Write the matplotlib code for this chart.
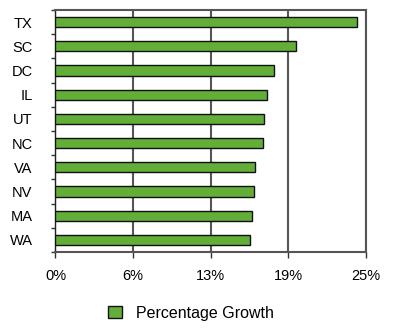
import numpy as np
import matplotlib.pyplot as plt

plt.rcParams['font.family'] = ['Liberation Sans', 'DejaVu Sans']

states = ['TX', 'SC', 'DC', 'IL', 'UT', 'NC', 'VA', 'NV', 'MA', 'WA']
growth = [24.3, 19.4, 17.6, 17.05, 16.8, 16.7, 16.1, 16.0, 15.85, 15.65]
x_ticks = [0, 6.25, 12.5, 18.75, 25]
x_labels = ['0%', '6%', '13%', '19%', '25%']

fig = plt.figure(figsize=(3.93, 3.31), dpi=100)
ax = fig.add_axes([0.1412, 0.2387, 0.79, 0.731])

y = np.arange(len(states))
bars = ax.barh(y, growth, height=0.42, color='#63ae38', edgecolor='#111111',
               linewidth=1.0, label='Percentage Growth', zorder=3)

ax.set_xlim(0, 25)
ax.set_ylim(len(states) - 0.5, -0.5)
ax.set_xticks(x_ticks)
ax.set_xticklabels(x_labels, fontsize=10.5)
ax.set_yticks(y)
ax.set_yticklabels(states, fontsize=10.5)
ax.set_yticks(np.arange(len(states) + 1) - 0.5, minor=True)

ax.xaxis.grid(True, color='#555555', linewidth=1.5, zorder=0)
ax.tick_params(axis='y', which='major', length=0, pad=16.5)
ax.tick_params(axis='y', which='minor', length=3, width=1, color='#333333')
ax.tick_params(axis='x', length=4, width=1, color='#333333', pad=8)

for side in ['top', 'right', 'bottom']:
    ax.spines[side].set_color('#555555')
    ax.spines[side].set_linewidth(1.5)
ax.spines['left'].set_color('#222222')
ax.spines['left'].set_linewidth(1.0)

fig.legend(handles=[bars], loc='center', bbox_to_anchor=(0.486, 0.054),
           frameon=False, fontsize=11.5, handlelength=0.85, handleheight=0.85,
           handletextpad=0.9)

fig.savefig('out.png', dpi=100)
